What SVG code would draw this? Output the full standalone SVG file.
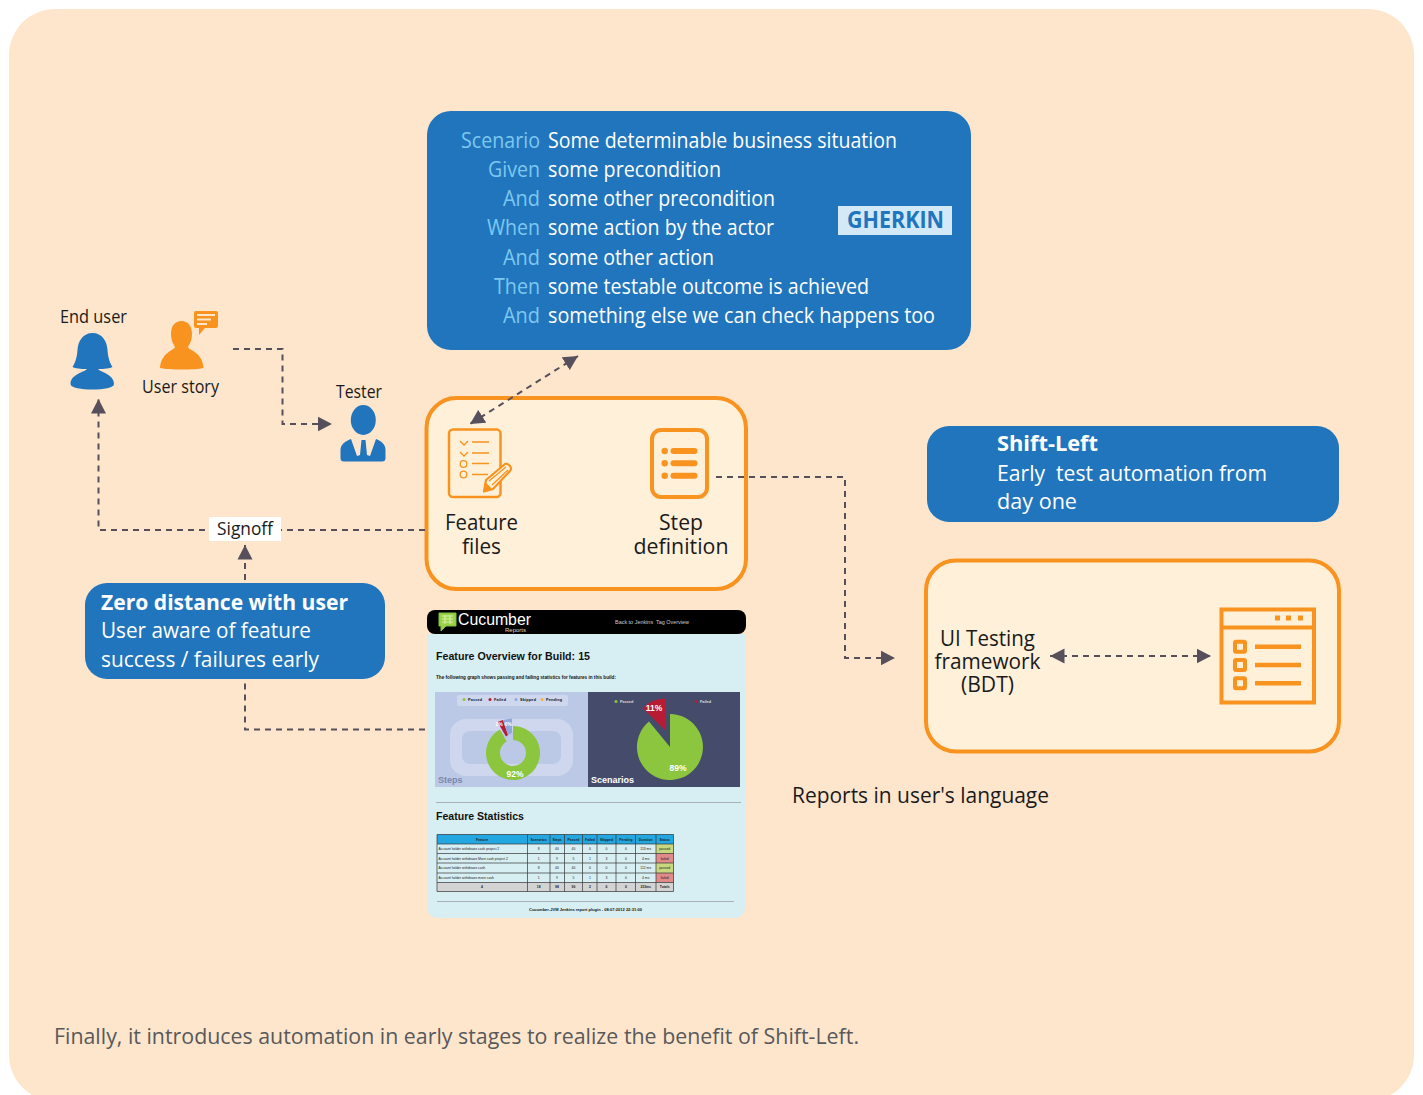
<svg xmlns="http://www.w3.org/2000/svg" width="1423" height="1095" viewBox="0 0 1423 1095">
<style>
text{font-family:"Open Sans","Noto Sans",sans-serif;fill:#1a1a1a;}
.k{font-size:21px;fill:#7cc8f0;text-anchor:end;}
.w{font-size:21px;fill:#fff;}
.b{font-weight:700;}
.l{font-size:18px;}
.m{font-size:22px;text-anchor:middle;}
.conn{fill:none;stroke:#57505a;stroke-width:2;stroke-dasharray:6 5;}
.blue{fill:#2175bd;}
.org{fill:#f9931f;}
.box{fill:#fff0da;stroke:#f9931f;stroke-width:4;}
.ol{fill:none;stroke:#f9931f;}
.r{font-family:"Liberation Sans",Arial,sans-serif;fill:#111;}
.t{font-family:"Liberation Sans",Arial,sans-serif;fill:#222;font-size:3.4px;text-anchor:middle;}
.tb{font-weight:700;}
.gl{stroke:#333;stroke-width:.7;}
</style>
<defs>
<marker id="arr" markerUnits="userSpaceOnUse" markerWidth="16" markerHeight="16" refX="14.500" refY="8" orient="auto-start-reverse"><path d="M0,0.500 L14.500,8 L0,15.500 Z" fill="#57505a"/></marker>
</defs>
<rect width="1423" height="1095" fill="#fff"/>
<rect id="background" x="9" y="9" width="1405" height="1092" rx="46" fill="#fee6cd"/>

<g id="gherkin">
<rect x="427" y="111" width="544" height="239" rx="24" class="blue"/>
<text class="k" x="540" y="148" textLength="79" lengthAdjust="spacingAndGlyphs">Scenario</text>
<text class="k" x="540" y="177" textLength="52" lengthAdjust="spacingAndGlyphs">Given</text>
<text class="k" x="540" y="206" textLength="37" lengthAdjust="spacingAndGlyphs">And</text>
<text class="k" x="540" y="235" textLength="53" lengthAdjust="spacingAndGlyphs">When</text>
<text class="k" x="540" y="265" textLength="37" lengthAdjust="spacingAndGlyphs">And</text>
<text class="k" x="540" y="294" textLength="46" lengthAdjust="spacingAndGlyphs">Then</text>
<text class="k" x="540" y="323" textLength="37" lengthAdjust="spacingAndGlyphs">And</text>
<text class="w" x="548" y="148" textLength="349" lengthAdjust="spacingAndGlyphs">Some determinable business situation</text>
<text class="w" x="548" y="177" textLength="173" lengthAdjust="spacingAndGlyphs">some precondition</text>
<text class="w" x="548" y="206" textLength="227" lengthAdjust="spacingAndGlyphs">some other precondition</text>
<text class="w" x="548" y="235" textLength="226" lengthAdjust="spacingAndGlyphs">some action by the actor</text>
<text class="w" x="548" y="265" textLength="166" lengthAdjust="spacingAndGlyphs">some other action</text>
<text class="w" x="548" y="294" textLength="321" lengthAdjust="spacingAndGlyphs">some testable outcome is achieved</text>
<text class="w" x="548" y="323" textLength="387" lengthAdjust="spacingAndGlyphs">something else we can check happens too</text>
<rect x="838" y="206" width="114" height="29" fill="#d3e9f7"/>
<text x="847" y="228" font-size="23" font-weight="700" style="fill:#2175bd" textLength="97" lengthAdjust="spacingAndGlyphs">GHERKIN</text>
</g>

<g id="end-user">
<text class="l" x="60" y="323" textLength="67" lengthAdjust="spacingAndGlyphs">End user</text>
<path class="blue" d="M92.500,333 C102,333 107,341 107.500,350 C108,358 110,363 112.500,367 C108,369 101,369 98,369 C100,372 114,374 114,384 C114,388 103,389.500 92.500,389.500 C82,389.500 70.500,388 70.500,384 C70.500,374 85,372 87,369 C84,369 77,369 72.500,367 C75,363 77,358 77.500,350 C78,341 83,333 92.500,333 Z"/>
</g>
<g id="user-story">
<path class="org" d="M181.500,321 C188,321 192,326 192,334 C192,341 189,345 188,347 C188,350 203,352 203.500,368 C195,370 170,370 160,368 C161,352 175,350 175,347 C174,345 171,341 171,334 C171,326 175,321 181.500,321 Z"/>
<path class="org" d="M196,311 H216 Q218,311 218,313 V326 Q218,328 216,328 H205 L199,335 V328 H196 Q194,328 194,326 V313 Q194,311 196,311 Z"/>
<path d="M197,315 H215 M197,319.500 H211 M197,324 H207" stroke="#fee6cd" stroke-width="1.800" fill="none"/>
<text class="l" x="142" y="393" textLength="77" lengthAdjust="spacingAndGlyphs">User story</text>
</g>
<g id="tester">
<text class="l" x="336" y="398" textLength="46" lengthAdjust="spacingAndGlyphs">Tester</text>
<ellipse class="blue" cx="363.300" cy="420" rx="12.500" ry="15"/>
<path class="blue" d="M351,439 L357,456 L360,455 L361.500,440 H365.500 L367,455 L370,456 L376,439 C381,441 385.500,444 385.500,450 V458 Q385.500,461.500 382,461.500 H344 Q340.500,461.500 340.500,458 V450 C340.500,444 346,441 351,439 Z"/>
</g>

<g id="feature-step">
<rect x="426.500" y="398" width="319.500" height="191" rx="30" class="box"/>
<g id="feature-files">
<rect x="449" y="429.500" width="51.500" height="67.500" rx="4" class="ol" stroke-width="2.500"/>
<path class="ol" stroke-width="1.300" d="M472,442 H489 M472,453 H489 M472,463.500 H489 M472,474.500 H488 M460,441 L464,445 L468,441 M460,452 L464,456 L468,452"/>
<circle class="ol" stroke-width="1.300" cx="463.500" cy="464" r="3.300"/><circle class="ol" stroke-width="1.300" cx="463.500" cy="474.500" r="3.300"/>
<path d="M484,491.500 L486,480 L505,464 Q507.500,463 510,466 Q512,469 510,471 L493,489 Z" fill="#fff0da" stroke="#f9931f" stroke-width="2.200" stroke-linejoin="round"/>
<path class="ol" stroke-width="1.300" d="M489,481 L506,467 M492,485 L508,470"/>
<path class="org" d="M483,492.500 L485.500,482 L492.500,489.500 Z"/>
<text class="m" x="481.500" y="530" textLength="73" lengthAdjust="spacingAndGlyphs">Feature</text>
<text class="m" x="481.500" y="554" textLength="39" lengthAdjust="spacingAndGlyphs">files</text>
</g>
<g id="step-definition">
<rect x="652" y="430" width="55" height="67" rx="9" class="ol" stroke-width="4"/>
<circle class="org" cx="664.700" cy="451" r="3.200"/><circle class="org" cx="664.700" cy="463.300" r="3.200"/><circle class="org" cx="664.700" cy="475.700" r="3.200"/>
<rect class="org" x="670.500" y="448" width="27" height="6" rx="3"/><rect class="org" x="670.500" y="460.300" width="27" height="6" rx="3"/><rect class="org" x="670.500" y="472.700" width="27" height="6" rx="3"/>
<text class="m" x="681" y="530" textLength="44" lengthAdjust="spacingAndGlyphs">Step</text>
<text class="m" x="681" y="554" textLength="95" lengthAdjust="spacingAndGlyphs">definition</text>
</g>
</g>

<g id="zero-distance">
<rect x="85" y="583" width="300" height="96" rx="22" class="blue"/>
<text class="w b" x="101" y="610" font-size="22" textLength="247" lengthAdjust="spacingAndGlyphs">Zero distance with user</text>
<text class="w" x="101" y="638" textLength="210" lengthAdjust="spacingAndGlyphs">User aware of feature</text>
<text class="w" x="101" y="667" textLength="218" lengthAdjust="spacingAndGlyphs">success / failures early</text>
</g>

<g id="shift-left">
<rect x="927" y="426" width="412" height="96" rx="22" class="blue"/>
<text class="w b" x="997" y="451" font-size="22" textLength="101" lengthAdjust="spacingAndGlyphs">Shift-Left</text>
<text class="w" x="997" y="481" textLength="270" xml:space="preserve" lengthAdjust="spacingAndGlyphs">Early  test automation from</text>
<text class="w" x="997" y="509" textLength="80" lengthAdjust="spacingAndGlyphs">day one</text>
</g>

<g id="ui-testing">
<rect x="926" y="560.500" width="413" height="191" rx="30" class="box"/>
<text class="m" x="987.500" y="646" textLength="95" xml:space="preserve" lengthAdjust="spacingAndGlyphs">UI Testing</text>
<text class="m" x="987.500" y="669" textLength="106" lengthAdjust="spacingAndGlyphs">framework</text>
<text class="m" x="987.500" y="692" textLength="53" lengthAdjust="spacingAndGlyphs">(BDT)</text>
<g id="browser-icon">
<rect x="1221.500" y="609.500" width="92.500" height="93" class="ol" stroke-width="4"/>
<path class="ol" stroke-width="4" d="M1221,627.500 H1314"/>
<rect class="org" x="1275" y="615.500" width="5" height="5"/><rect class="org" x="1286" y="615.500" width="5" height="5"/><rect class="org" x="1298" y="615.500" width="5" height="5"/>
<rect class="ol" stroke-width="4" x="1235" y="641.700" width="10" height="10" rx="1"/><rect class="ol" stroke-width="4" x="1235" y="660" width="10" height="10" rx="1"/><rect class="ol" stroke-width="4" x="1235" y="678.300" width="10" height="10" rx="1"/>
<path class="ol" stroke-width="4.500" d="M1255,646.700 H1301 M1255,665 H1301 M1255,683.300 H1301"/>
</g>
</g>

<g id="report">
<path d="M427,634 H745 V906 Q745,918 733,918 H439 Q427,918 427,906 Z" fill="#d7eff3"/>
<rect x="427" y="610" width="319" height="24" rx="8" fill="#000"/>
<path d="M439,613 H456 V626 H446 L441,631 V626 H439 Z" fill="#9bd246" stroke="#7cc243"/>
<path d="M442,616 H453 M442,619 H453 M442,622 H453 M445,615 V624 M450,615 V624" stroke="#d6edab" stroke-width="1.200" fill="none"/>
<text class="r" x="458" y="625" font-size="16" style="fill:#fff" textLength="73" lengthAdjust="spacingAndGlyphs">Cucumber</text>
<text class="r" x="505" y="632" font-size="6" style="fill:#ddd">Reports</text>
<text class="r" x="615" y="624" font-size="5" style="fill:#ccc" xml:space="preserve" textLength="74" lengthAdjust="spacingAndGlyphs">Back to Jenkins  Tag Overview</text>
<text class="r tb" x="436" y="660" font-size="10" textLength="154" lengthAdjust="spacingAndGlyphs">Feature Overview for Build: 15</text>
<text class="r tb" x="436" y="679" font-size="4.500" textLength="180" lengthAdjust="spacingAndGlyphs">The following graph shows passing and failing statistics for features in this build:</text>

<rect x="435" y="692" width="153" height="95" fill="#bcc9e6"/>
<rect x="457" y="695" width="111" height="11" rx="2" fill="#ced7ee"/>
<rect x="450" y="719" width="123" height="57" rx="16" fill="#ced7ee"/>
<rect x="462" y="731" width="99" height="33" rx="8" fill="#bcc9e6"/>
<g font-size="3.800">
<circle cx="464" cy="699.500" r="1.500" fill="#8cc63f"/><text class="r tb" x="468" y="701" textLength="14">Passed</text>
<circle cx="490" cy="699.500" r="1.500" fill="#b71c34"/><text class="r tb" x="494" y="701" textLength="12">Failed</text>
<circle cx="516" cy="699.500" r="1.500" fill="#8fa8dc"/><text class="r tb" x="520" y="701" textLength="16">Skipped</text>
<circle cx="542" cy="699.500" r="1.500" fill="#f9b233"/><text class="r tb" x="546" y="701" textLength="16">Pending</text>
</g>
<path d="M513,726 A27,27 0 1 1 499.900,729.400 L506.700,741.600 A13,13 0 1 0 513,740 Z" fill="#8cc63f"/>
<path d="M497.500,722 L503,720 L508,735 L506,736.500 Z" fill="#b71c34"/>
<path d="M503,720 L512,718.500 L512,733 L508,735 Z" fill="#8fa8dc"/>
<text class="r tb" x="499" y="726" font-size="5" style="fill:#fff" text-anchor="middle">2%</text>
<text class="r tb" x="508" y="726" font-size="5" style="fill:#fff" text-anchor="middle">6%</text>
<text class="r tb" x="515" y="777" font-size="8.500" style="fill:#fff" text-anchor="middle">92%</text>
<text class="r tb" x="438" y="783" font-size="9" style="fill:#7688ae">Steps</text>

<rect x="588" y="692" width="152" height="95" fill="#454c6b"/>
<circle cx="616" cy="701.500" r="1.500" fill="#8cc63f"/><text class="r tb" x="620" y="703" font-size="3.800" style="fill:#ddd">Passed</text>
<circle cx="696" cy="701.500" r="1.500" fill="#b71c34"/><text class="r tb" x="700" y="703" font-size="3.800" style="fill:#ddd">Failed</text>
<path d="M670,747 V714 A33,33 0 1 1 649,721.500 Z" fill="#8cc63f"/>
<path d="M665,730 V698.500 A33,33 0 0 0 642.500,708 Z" fill="#b71c34"/>
<text class="r tb" x="654" y="711" font-size="8.500" style="fill:#fff" text-anchor="middle">11%</text>
<text class="r tb" x="678" y="771" font-size="8.500" style="fill:#fff" text-anchor="middle">89%</text>
<text class="r tb" x="591" y="783" font-size="9" style="fill:#fff">Scenarios</text>

<path d="M436,802.500 H741 M437,901.500 H734" stroke="#a8b0b4" stroke-width="1"/>
<text class="r tb" x="436" y="820" font-size="10" textLength="88" lengthAdjust="spacingAndGlyphs">Feature Statistics</text>

<rect x="437" y="834.500" width="236.500" height="9.500" fill="#22a7e0"/>
<rect x="437" y="882.500" width="236.500" height="9" fill="#d3d3d3"/>
<rect x="656" y="844" width="17.500" height="9.500" fill="#c9d77e"/>
<rect x="656" y="853.500" width="17.500" height="9.500" fill="#e08a8a"/>
<rect x="656" y="863" width="17.500" height="10" fill="#c9d77e"/>
<rect x="656" y="873" width="17.500" height="9.500" fill="#e08a8a"/>
<path class="gl" fill="none" d="M437,834.500 H673.500 V891.500 H437 Z M437,844 H673.500 M437,853.500 H673.500 M437,863 H673.500 M437,873 H673.500 M437,882.500 H673.500 M527.500,834.500 V891.500 M550,834.500 V891.500 M564.500,834.500 V891.500 M582.500,834.500 V891.500 M597,834.500 V891.500 M616,834.500 V891.500 M635.500,834.500 V891.500 M656,834.500 V891.500"/>
<g>
<text class="t tb" x="482" y="841">Feature</text><text class="t tb" x="538.700" y="841">Scenarios</text><text class="t tb" x="557" y="841">Steps</text><text class="t tb" x="573.500" y="841">Passed</text><text class="t tb" x="590" y="841">Failed</text><text class="t tb" x="606.500" y="841">Skipped</text><text class="t tb" x="626" y="841">Pending</text><text class="t tb" x="645.700" y="841">Duration</text><text class="t tb" x="664.700" y="841">Status</text>
</g>
<g>
<text class="t" x="438.500" y="850" style="text-anchor:start">Account holder withdraws cash project 2</text><text class="t" x="538.700" y="850">8</text><text class="t" x="557" y="850">40</text><text class="t" x="573.500" y="850">40</text><text class="t" x="590" y="850">0</text><text class="t" x="606.500" y="850">0</text><text class="t" x="626" y="850">0</text><text class="t" x="645.700" y="850">113 ms</text><text class="t" x="664.700" y="850">passed</text>
<text class="t" x="438.500" y="860" style="text-anchor:start">Account holder withdraws More cash project 2</text><text class="t" x="538.700" y="860">1</text><text class="t" x="557" y="860">9</text><text class="t" x="573.500" y="860">5</text><text class="t" x="590" y="860">1</text><text class="t" x="606.500" y="860">3</text><text class="t" x="626" y="860">0</text><text class="t" x="645.700" y="860">4 ms</text><text class="t" x="664.700" y="860">failed</text>
<text class="t" x="438.500" y="869" style="text-anchor:start">Account holder withdraws cash</text><text class="t" x="538.700" y="869">8</text><text class="t" x="557" y="869">40</text><text class="t" x="573.500" y="869">40</text><text class="t" x="590" y="869">0</text><text class="t" x="606.500" y="869">0</text><text class="t" x="626" y="869">0</text><text class="t" x="645.700" y="869">112 ms</text><text class="t" x="664.700" y="869">passed</text>
<text class="t" x="438.500" y="879" style="text-anchor:start">Account holder withdraws more cash</text><text class="t" x="538.700" y="879">1</text><text class="t" x="557" y="879">9</text><text class="t" x="573.500" y="879">5</text><text class="t" x="590" y="879">1</text><text class="t" x="606.500" y="879">3</text><text class="t" x="626" y="879">0</text><text class="t" x="645.700" y="879">4 ms</text><text class="t" x="664.700" y="879">failed</text>
<text class="t tb" x="482" y="888">4</text><text class="t tb" x="538.700" y="888">18</text><text class="t tb" x="557" y="888">98</text><text class="t tb" x="573.500" y="888">90</text><text class="t tb" x="590" y="888">2</text><text class="t tb" x="606.500" y="888">6</text><text class="t tb" x="626" y="888">0</text><text class="t tb" x="645.700" y="888">233ms</text><text class="t tb" x="664.700" y="888">Totals</text>
</g>
<text class="r tb" x="529" y="911" font-size="3.800" textLength="113" lengthAdjust="spacingAndGlyphs">Cucumber-JVM Jenkins report plugin - 08:07:2012 22:31:00</text>
</g>

<g id="connectors">
<path class="conn" d="M233,349 H282.500 V424 H332" marker-end="url(#arr)"/>
<path class="conn" d="M425,530 H98.500 V399" marker-end="url(#arr)"/>
<path class="conn" d="M245,580 V545" marker-end="url(#arr)"/>
<path class="conn" d="M425,729.500 H245 V680"/>
<path class="conn" d="M578,356 L470,424" marker-start="url(#arr)" marker-end="url(#arr)"/>
<path class="conn" d="M716,477 H845 V658 H895" marker-end="url(#arr)"/>
<path class="conn" d="M1050,656 H1211" marker-start="url(#arr)" marker-end="url(#arr)"/>
</g>

<g id="signoff">
<rect x="209" y="517" width="72" height="24" fill="#fff"/>
<text class="l" x="217" y="535" textLength="56" lengthAdjust="spacingAndGlyphs">Signoff</text>
</g>

<text id="reports-label" x="792" y="803" font-size="22" textLength="257" lengthAdjust="spacingAndGlyphs">Reports in user's language</text>
<text id="footer" x="54" y="1044" font-size="22" style="fill:#58595b" textLength="805" lengthAdjust="spacingAndGlyphs">Finally, it introduces automation in early stages to realize the benefit of Shift-Left.</text>
</svg>
